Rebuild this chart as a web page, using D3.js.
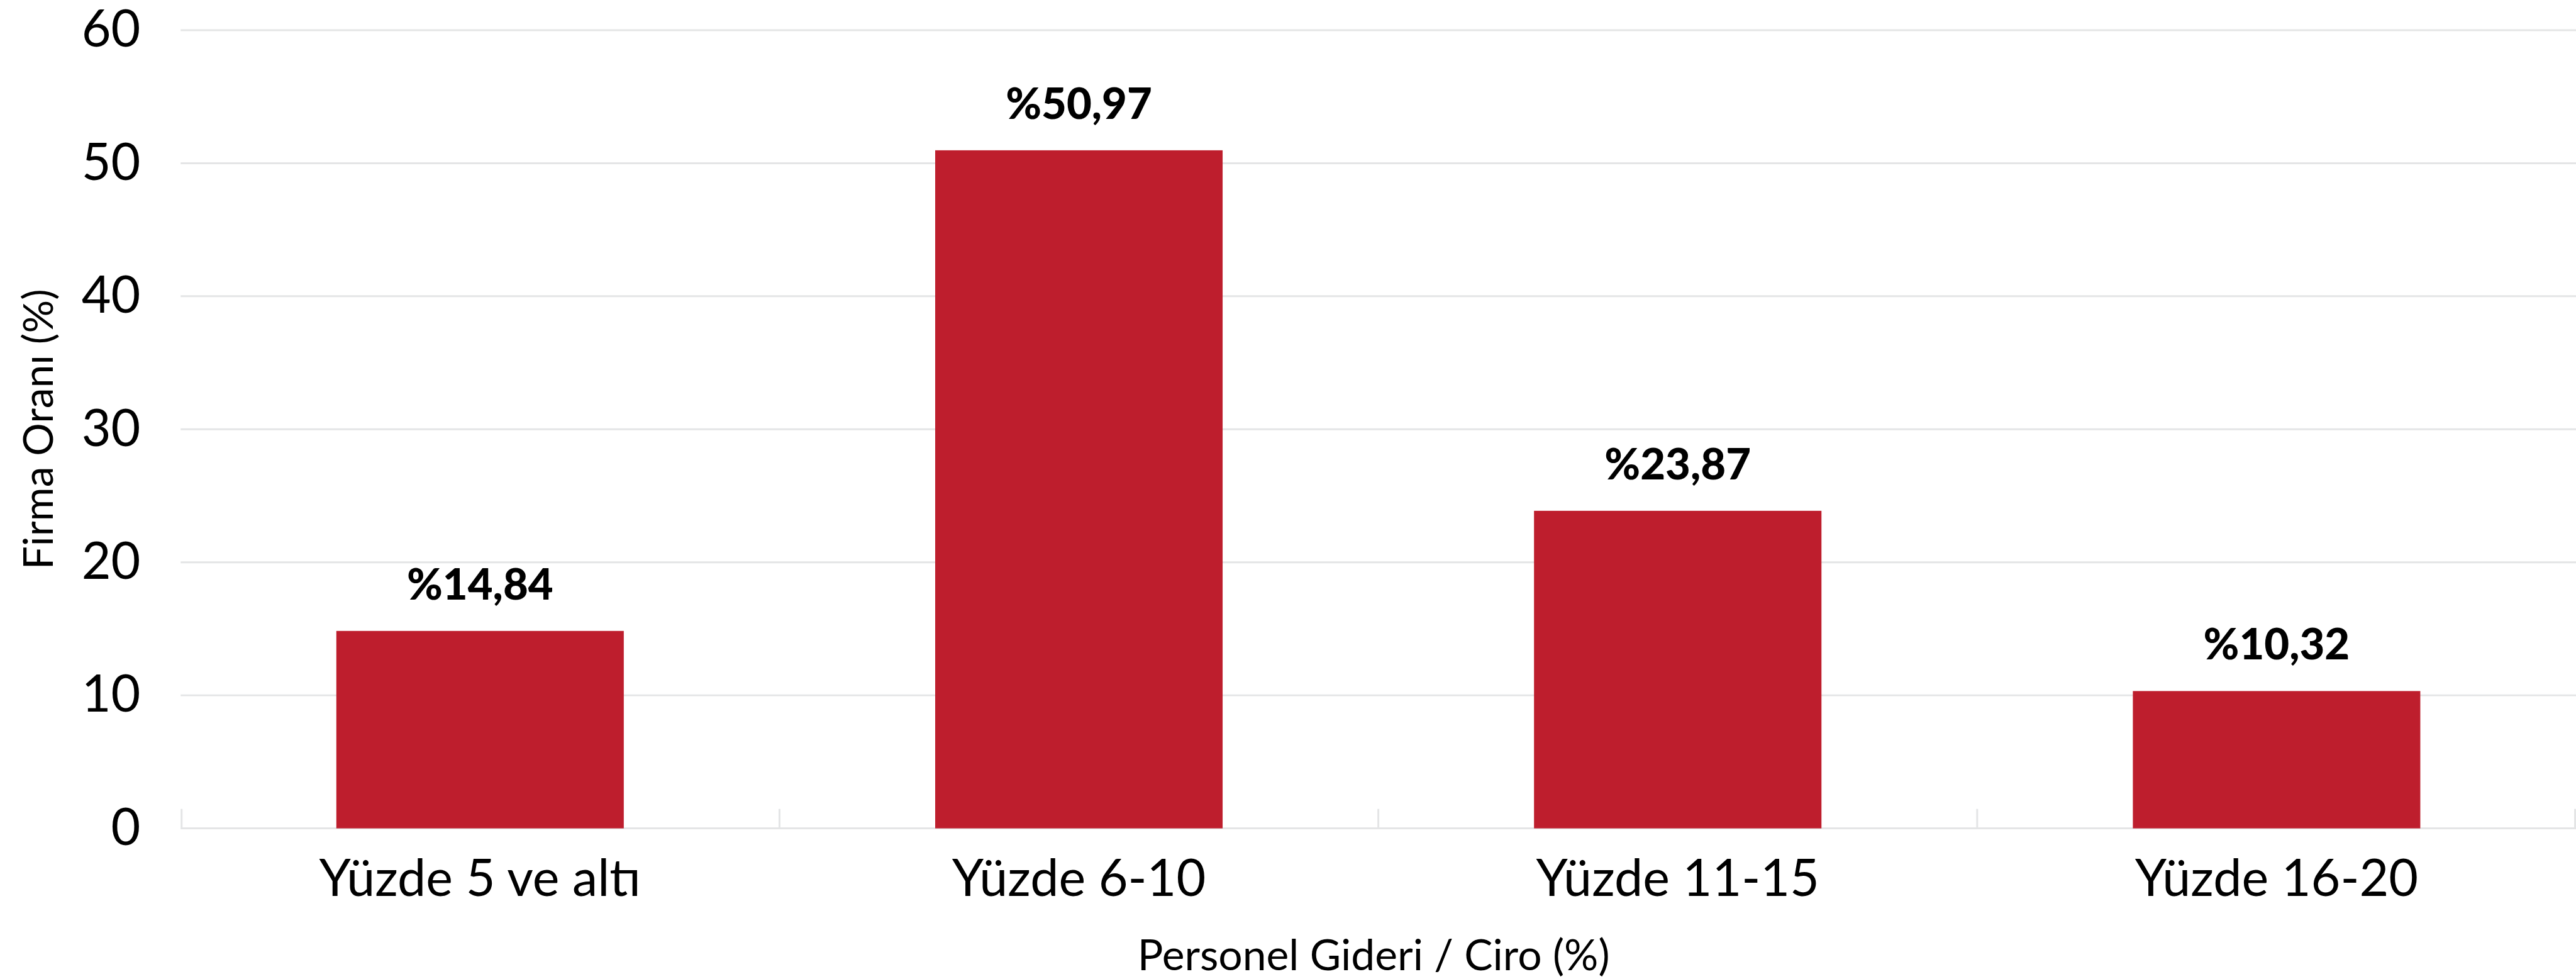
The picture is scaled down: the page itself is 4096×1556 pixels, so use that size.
<!DOCTYPE html>
<html>
<head>
<meta charset="utf-8">
<script src="https://cdn.jsdelivr.net/npm/d3@7"></script>
<style>
    html, body { margin: 0; padding: 0; background: #ffffff; overflow: hidden; }
    svg { display: block; }
    text { font-family: Lato, "Open Sans", sans-serif; fill: #000000; }
</style>
</head>
<body>
<script>
const categories = ["Yüzde 5 ve altı", "Yüzde 6-10", "Yüzde 11-15", "Yüzde 16-20"];
const values = [14.84, 50.97, 23.87, 10.32];
const yTicks = [0, 10, 20, 30, 40, 50, 60];

const xTitle = "Personel Gideri / Ciro (%)";
const yTitle = "Firma Oranı (%)";

// chart is laid out in the reference's own pixel space, the viewBox scales it to the window
const REF_W = 4107, REF_H = 1560;
const GRID_COLOR = "#e4e5e6";
const BAR_COLOR = "#be1e2d";

const plot = { left: 288, right: 4107, top: 48, bottom: 1320 };

const svg = d3.select("body").append("svg")
    .attr("width", 4096)
    .attr("height", 1556)
    .attr("viewBox", `0 0 ${REF_W} ${REF_H}`);

let x = d3.scaleBand()
    .domain(categories)
    .range([plot.left, plot.right])
    .paddingInner(0.52)
    .paddingOuter(0.26);

let y = d3.scaleLinear()
    .domain([0, 60])
    .range([plot.bottom, plot.top]);

// horizontal grid lines
svg.append("g")
    .attr("class", "grid")
    .selectAll("line")
    .data(yTicks)
    .enter().append("line")
    .attr("x1", plot.left)
    .attr("x2", plot.right)
    .attr("y1", function (d) { return y(d); })
    .attr("y2", function (d) { return y(d); })
    .attr("stroke", GRID_COLOR)
    .attr("stroke-width", 3);

// tick marks between categories, pointing up from the axis
let boundaries = d3.range(categories.length + 1).map(function (i) {
    return plot.left + i * x.step() - (i == categories.length ? 1.5 : 0) + (i == 0 ? 1.5 : 0);
});

svg.append("g")
    .attr("class", "cat-ticks")
    .selectAll("line")
    .data(boundaries)
    .enter().append("line")
    .attr("x1", function (d) { return d; })
    .attr("x2", function (d) { return d; })
    .attr("y1", y(0))
    .attr("y2", y(0) - 31)
    .attr("stroke", GRID_COLOR)
    .attr("stroke-width", 3);

// y axis labels
let yAxis = d3.axisLeft(y)
    .tickValues(yTicks)
    .tickSize(0)
    .tickPadding(64);

let yAxisG = svg.append("g")
    .attr("transform", `translate(${plot.left},0)`)
    .call(yAxis);

yAxisG.select(".domain").remove();
yAxisG.selectAll("text")
    .attr("font-family", "Lato, 'Open Sans', sans-serif")
    .attr("font-size", 81)
    .attr("fill", "#000");

// bars
svg.append("g")
    .attr("class", "bars")
    .selectAll("rect")
    .data(values)
    .enter().append("rect")
    .attr("x", function (d, i) { return x(categories[i]); })
    .attr("y", function (d) { return y(d); })
    .attr("width", x.bandwidth())
    .attr("height", function (d) { return y(0) - y(d); })
    .attr("fill", BAR_COLOR);

// value labels
svg.append("g")
    .attr("class", "labels")
    .selectAll("text")
    .data(values)
    .enter().append("text")
    .attr("x", function (d, i) { return x(categories[i]) + x.bandwidth() / 2; })
    .attr("y", function (d) { return y(d) - 50; })
    .attr("text-anchor", "middle")
    .attr("font-size", 69)
    .attr("font-weight", 900)
    .text(function (d) { return "%" + d.toFixed(2).replace(".", ","); });

// x axis category labels
let xAxis = d3.axisBottom(x)
    .tickSize(0)
    .tickPadding(0);

let xAxisG = svg.append("g")
    .attr("transform", `translate(0,${plot.bottom})`)
    .call(xAxis);

xAxisG.select(".domain").remove();
xAxisG.selectAll("text")
    .attr("font-family", "Lato, 'Open Sans', sans-serif")
    .attr("font-size", 81)
    .attr("fill", "#000")
    .attr("dy", null)
    .attr("y", 108);

// axis titles
svg.append("text")
    .attr("x", 2190)
    .attr("y", 1546)
    .attr("text-anchor", "middle")
    .attr("font-size", 68)
    .text(xTitle);

svg.append("text")
    .attr("transform", `translate(84,${(plot.top + plot.bottom) / 2}) rotate(-90)`)
    .attr("text-anchor", "middle")
    .attr("font-size", 66)
    .text(yTitle);
</script>
</body>
</html>
